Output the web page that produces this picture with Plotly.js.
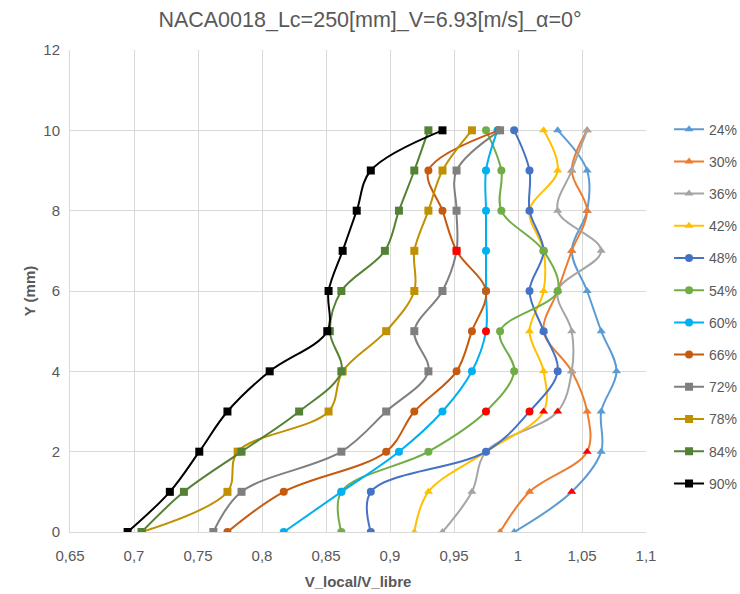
<!DOCTYPE html>
<html>
<head>
<meta charset="utf-8">
<script src="https://cdn.plot.ly/plotly-3.0.1.min.js"></script>
<style>html,body{margin:0;padding:0;background:#fff;}#chart{width:740px;height:594px;}</style>
</head>
<body>
<div id="chart"></div>
<script>
// Y positions (mm)
const yPos = [0, 1, 2, 3, 4, 5, 6, 7, 8, 9, 10];

// Series names (chord position %)
const seriesNames = ["24%", "30%", "36%", "42%", "48%", "54%", "60%", "66%", "72%", "78%", "84%", "90%"];

// V_local/V_libre values for each series, at yPos
const s24 = [0.997, 1.042, 1.065, 1.065, 1.077, 1.065, 1.054, 1.042, 1.054, 1.054, 1.031];
const s30 = [0.986, 1.009, 1.054, 1.054, 1.042, 1.020, 1.031, 1.042, 1.054, 1.042, 1.054];
const s36 = [0.941, 0.964, 0.975, 1.031, 1.042, 1.042, 1.031, 1.065, 1.031, 1.042, 1.054];
const s42 = [0.919, 0.930, 0.975, 1.020, 1.020, 1.009, 1.020, 1.020, 1.009, 1.031, 1.020];
const s48 = [0.885, 0.885, 0.975, 1.009, 1.031, 1.020, 1.009, 1.020, 1.009, 1.009, 0.997];
const s54 = [0.862, 0.862, 0.930, 0.975, 0.997, 0.986, 1.031, 1.020, 0.987, 0.987, 0.975];
const s60 = [0.817, 0.862, 0.907, 0.941, 0.964, 0.975, 0.975, 0.975, 0.975, 0.975, 0.984];
const s66 = [0.773, 0.817, 0.897, 0.919, 0.952, 0.964, 0.975, 0.952, 0.941, 0.930, 0.985];
const s72 = [0.762, 0.784, 0.862, 0.897, 0.930, 0.919, 0.941, 0.952, 0.952, 0.952, 0.986];
const s78 = [0.706, 0.773, 0.781, 0.852, 0.863, 0.897, 0.919, 0.919, 0.930, 0.941, 0.964];
const s84 = [0.706, 0.739, 0.784, 0.829, 0.862, 0.853, 0.862, 0.896, 0.907, 0.919, 0.930];
const s90 = [0.695, 0.728, 0.751, 0.773, 0.806, 0.851, 0.852, 0.863, 0.874, 0.885, 0.941];

// Index (into yPos) of the highlighted (red) point of each series, -1 = none
const highlightIdx = [1, 2, 3, 3, 3, 3, 5, -1, 7, -1, -1, -1];

const seriesValues = [s24, s30, s36, s42, s48, s54, s60, s66, s72, s78, s84, s90];
const seriesColors = ["#5B9BD5", "#ED7D31", "#A5A5A5", "#FFC000", "#4472C4", "#70AD47",
                      "#00B0F0", "#C55A11", "#7F7F7F", "#BF9000", "#548235", "#000000"];
const seriesSymbols = ["triangle-up", "triangle-up", "triangle-up", "triangle-up",
                       "circle", "circle", "circle", "circle",
                       "square", "square", "square", "square"];
const highlightColor = "#FF0000";

const traces = seriesNames.map((name, i) => {
  const mcolors = yPos.map((_, k) => k === highlightIdx[i] ? highlightColor : seriesColors[i]);
  return {
    type: "scatter",
    mode: "lines+markers",
    name: name,
    legendgroup: name,
    x: seriesValues[i],
    y: yPos,
    line: {color: seriesColors[i], width: 2, shape: "spline", smoothing: 1},
    marker: {color: mcolors, symbol: seriesSymbols[i], size: 8, line: {width: 0}},
    hoverinfo: "x+y+name"
  };
});

const txtColor = "#595959";
const gridColor = "#D9D9D9";
const fontFam = "Liberation Sans, Arial, sans-serif";

const layout = {
  width: 740, height: 594,
  paper_bgcolor: "#ffffff", plot_bgcolor: "#ffffff",
  separators: ", ",
  font: {family: fontFam, color: txtColor, size: 15},
  title: {text: "NACA0018_Lc=250[mm]_V=6.93[m/s]_α=0°", font: {size: 21.5, color: txtColor, family: fontFam},
          x: 0.5, xanchor: "center", y: 0.968, yanchor: "middle"},
  margin: {l: 70, r: 94, t: 50, b: 62, autoexpand: false},
  xaxis: {
    range: [0.65, 1.1], dtick: 0.05, tick0: 0.65, showgrid: true, gridcolor: gridColor, gridwidth: 1,
    zeroline: false, showline: true, linecolor: gridColor, linewidth: 1, ticks: "",
    tickfont: {size: 15, color: txtColor}, ticklabelstandoff: 10,
    title: {text: "<b>V_local/V_libre</b>", font: {size: 15, color: txtColor}, standoff: 13}
  },
  yaxis: {
    range: [0, 12], dtick: 2, showgrid: true, gridcolor: gridColor, gridwidth: 1,
    zeroline: false, showline: true, linecolor: gridColor, linewidth: 1, ticks: "",
    tickfont: {size: 15, color: txtColor}, ticklabelstandoff: 6,
    title: {text: "<b>Y (mm)</b>", font: {size: 15, color: txtColor}, standoff: 4}
  },
  legend: {
    x: 1.04, xanchor: "left", y: 0.868, yanchor: "top",
    traceorder: "grouped", tracegroupgap: 11,
    font: {size: 14, color: txtColor}, itemwidth: 30, bgcolor: "rgba(0,0,0,0)"
  },
  showlegend: true
};

Plotly.newPlot("chart", traces, layout, {displayModeBar: false, staticPlot: true});
</script>
</body>
</html>
